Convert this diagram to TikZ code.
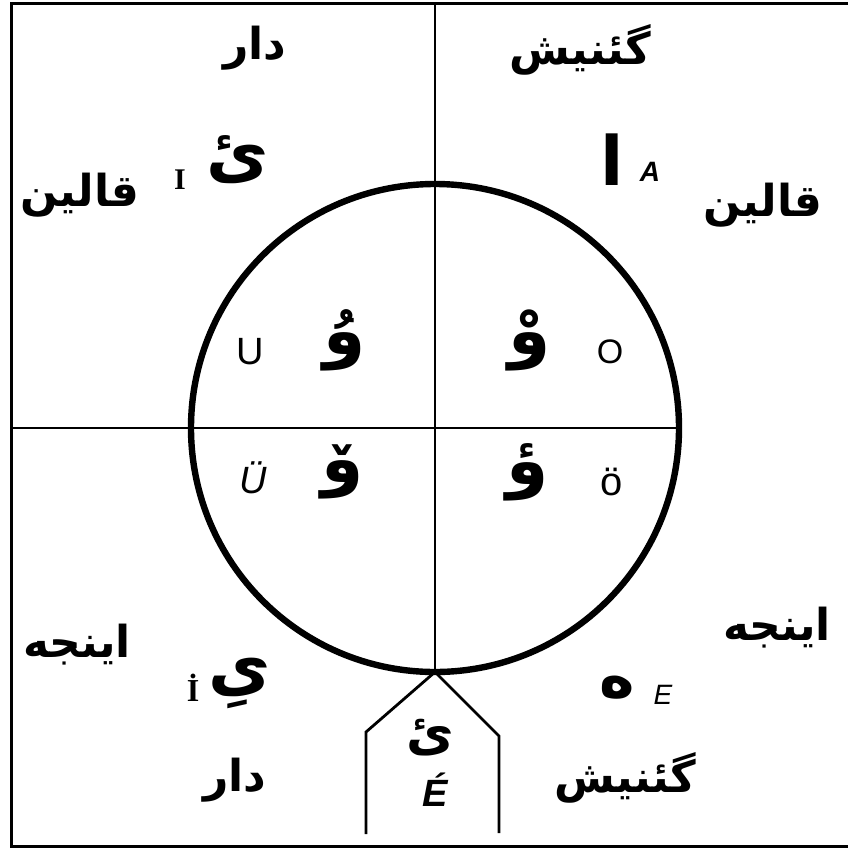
\documentclass[tikz,border=0pt]{standalone}
\usepackage{fontspec}
\usetikzlibrary{positioning}
\TeXXeTstate=1
\newfontfamily\arabicfont[Script=Arabic]{DejaVu Sans}
\newfontfamily\latsans{Liberation Sans}
\newfontfamily\latserif{Liberation Serif}
\tikzset{
  every picture/.style={line width=1pt},
  frame/.style={draw=black, line width=1.5pt},
  axis/.style={draw=black, line width=1pt},
  ring/.style={draw=black, line width=3.2pt},
  word/.style={font=\arabicfont\bfseries\fontsize{22}{24}\selectfont, inner sep=0pt},
  harf/.style={font=\arabicfont\bfseries\fontsize{34}{36}\selectfont, inner sep=0pt},
  latin/.style={font=\latsans\fontsize{#1}{#1}\selectfont, inner sep=0pt},
  latin/.default=17,
  latinit/.style={font=\latsans\itshape\fontsize{#1}{#1}\selectfont, inner sep=0pt},
  latinit/.default=17,
  latinbf/.style={font=\latsans\bfseries\itshape\fontsize{#1}{#1}\selectfont, inner sep=0pt},
  latinbf/.default=14,
  latinrm/.style={font=\latserif\bfseries\fontsize{#1}{#1}\selectfont, inner sep=0pt},
  latinrm/.default=15,
}

\begin{document}
\begin{tikzpicture}[x=0.5pt, y=-0.5pt]
  \useasboundingbox (0,0) rectangle (848,852);
  % frame and cross
  \coordinate (tl) at (11,3);
  \coordinate (tr) at (848,3);
  \coordinate (bl) at (11,846);
  \coordinate (br) at (848,846);
  \coordinate (cc) at (435,428);
  \coordinate (vtop) at (435,3);
  \coordinate (vbot) at (435,672);
  \coordinate (hl) at (11,428);
  \coordinate (hr) at (679,428);
  \draw[frame] (tr) -- (tl) -- (bl) -- (br);
  \draw[axis] (vtop) -- (vbot);
  \draw[axis] (hl) -- (hr);
  \draw[ring] (cc) circle[radius=244];
  % the little house below
  \coordinate (hl1) at (366,732);
  \coordinate (hl2) at (366,834);
  \coordinate (hr1) at (499,736);
  \coordinate (hr2) at (499,833);
  \draw[frame, line width=1.4pt] (hl2) -- (hl1) -- (vbot) -- (hr1) -- (hr2);

  % words round the edge
  \node[word] (darTop) at (255,48) {\beginR دار\endR};
  \node[word] (genTop) at (580,50) {\beginR گئنیش\endR};
  \node[word] (qalL) at (80,195) {\beginR قالین\endR};
  \node[word] (qalR) at (763,205) {\beginR قالین\endR};
  \node[word] (incL) at (77,645) {\beginR اینجه\endR};
  \node[word] (incR) at (777,628) {\beginR اینجه\endR};
  \node[word] (darBot) at (235,780) {\beginR دار\endR};
  \node[word] (genBot) at (625,778) {\beginR گئنیش\endR};

  % outer vowels
  \node[harf] (yeI) at (238,160) {\beginR ئ\endR};
  \node[latinrm] (I) at (180,180) {I};
  \node[harf] (alef) at (612,160) {\beginR ا\endR};
  \node[latinbf] (A) at (650,172) {A};
  \node[harf] (yeIdot) at (240,683) {\beginR ىِ\endR};
  \node[latinrm=16] (Idot) at (193,688) {İ};
  \node[harf, font=\arabicfont\bfseries\fontsize{30}{32}\selectfont] (he) at (617,688) {\beginR ه\endR};
  \node[latinit=14] (E) at (663,695) {E};
  \node[harf, font=\arabicfont\bfseries\fontsize{26}{28}\selectfont] (yeE) at (430,738) {\beginR ئ\endR};
  \node[latinbf=19] (Eacute) at (435,790) {É};

  % vowels inside the ring
  \node[latin=19] (U) at (250,352) {U};
  \node[harf] (wawU) at (345,340) {\beginR وُ\endR};
  \node[harf] (wawO) at (530,340) {\beginR وْ\endR};
  \node[latin] (O) at (610,352) {O};
  \node[latinit=19] (Uum) at (253,478) {Ü};
  \node[harf] (wawUum) at (343,472) {\beginR ۆ\endR};
  \node[harf] (wawOum) at (528,472) {\beginR ؤ\endR};
  \node[latin=20] (Oum) at (612,482) {ö};
\end{tikzpicture}
\end{document}
